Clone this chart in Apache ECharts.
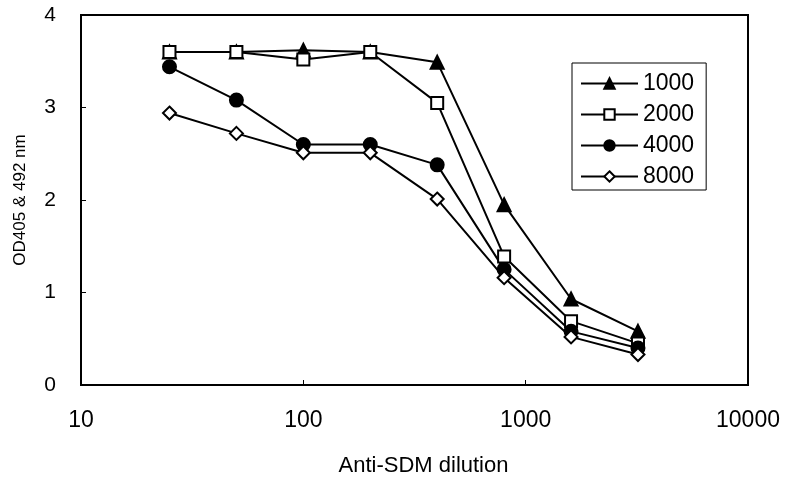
<!DOCTYPE html>
<html>
<head>
<meta charset="utf-8">
<script src="https://cdn.jsdelivr.net/npm/echarts@6/dist/echarts.min.js"></script>
<style>
  html, body { margin: 0; padding: 0; background: #fff; }
  #chart { width: 789px; height: 484px; }
</style>
</head>
<body>
<div id="chart"></div>
<script>
    var dilutions = [25, 50, 100, 200, 400, 800, 1600, 3200];
    var seriesNames = ['1000', '2000', '4000', '8000'];
    var od1000 = [3.6, 3.6, 3.62, 3.6, 3.49, 1.95, 0.93, 0.58];
    var od2000 = [3.6, 3.6, 3.52, 3.6, 3.05, 1.39, 0.69, 0.45];
    var od4000 = [3.44, 3.08, 2.6, 2.6, 2.38, 1.25, 0.58, 0.4];
    var od8000 = [2.94, 2.72, 2.51, 2.51, 2.01, 1.16, 0.52, 0.33];
    var xTicks = [10, 100, 1000, 10000];
    var yTicks = [0, 1, 2, 3, 4];

    (function(){
        var chart = echarts.init(document.getElementById('chart'));
        var font = 'Liberation Sans';

        function pairs(vals) {
            var res = [];
            for (var i = 0; i < dilutions.length; i++) {
                res.push([dilutions[i], vals[i]]);
            }
            return res;
        }

        function mkSeries(name, vals, symbol, fill, size) {
            return {
                name: name,
                type: 'line',
                data: pairs(vals),
                symbol: symbol,
                symbolSize: size,
                showAllSymbol: true,
                lineStyle: { color: '#000', width: 2 },
                itemStyle: { color: fill, borderColor: '#000', borderWidth: 2 },
                emphasis: { disabled: true }
            };
        }

        var option = {
            backgroundColor: '#fff',
            animation: false,
            grid: {
                left: 81, top: 15, right: 41, bottom: 99,
                show: true,
                borderColor: '#000',
                borderWidth: 2
            },
            legend: {
                left: 572, top: 63,
                orient: 'vertical',
                backgroundColor: '#fff',
                borderColor: '#000',
                borderWidth: 1,
                padding: [9, 12, 2, 8],
                itemWidth: 57,
                itemHeight: 13,
                itemGap: 8,
                textStyle: { fontFamily: font, fontSize: 23, color: '#000' },
                data: seriesNames
            },
            xAxis: {
                type: 'log',
                logBase: 10,
                min: xTicks[0],
                max: xTicks[xTicks.length - 1],
                name: 'Anti-SDM dilution',
                nameLocation: 'middle',
                nameGap: 70,
                nameTextStyle: { fontFamily: font, fontSize: 22, color: '#000', padding: [0, 0, 0, 18] },
                axisLine: { lineStyle: { color: '#000', width: 2 } },
                axisTick: { inside: true, length: 5, lineStyle: { color: '#000' } },
                axisLabel: {
                    margin: 24, fontFamily: font, fontSize: 23, color: '#000',
                    formatter: function (v) { return String(Math.round(v)); }
                },
                splitLine: { show: false }
            },
            yAxis: {
                type: 'value',
                min: yTicks[0],
                max: yTicks[yTicks.length - 1],
                interval: 1,
                name: 'OD405 & 492 nm',
                nameLocation: 'middle',
                nameGap: 52,
                nameTextStyle: { fontFamily: font, fontSize: 17, color: '#000' },
                axisLine: { show: true, lineStyle: { color: '#000', width: 2 } },
                axisTick: { show: true, inside: true, length: 5, lineStyle: { color: '#000' } },
                axisLabel: { margin: 25, fontFamily: font, fontSize: 21, color: '#000' },
                splitLine: { show: false }
            },
            series: [
                mkSeries(seriesNames[0], od1000, 'triangle', '#000', 13),
                mkSeries(seriesNames[1], od2000, 'rect', '#fff', 12),
                mkSeries(seriesNames[2], od4000, 'circle', '#000', 13),
                mkSeries(seriesNames[3], od8000, 'diamond', '#fff', 13)
            ]
        };
        chart.setOption(option);
    }());
</script>
</body>
</html>
